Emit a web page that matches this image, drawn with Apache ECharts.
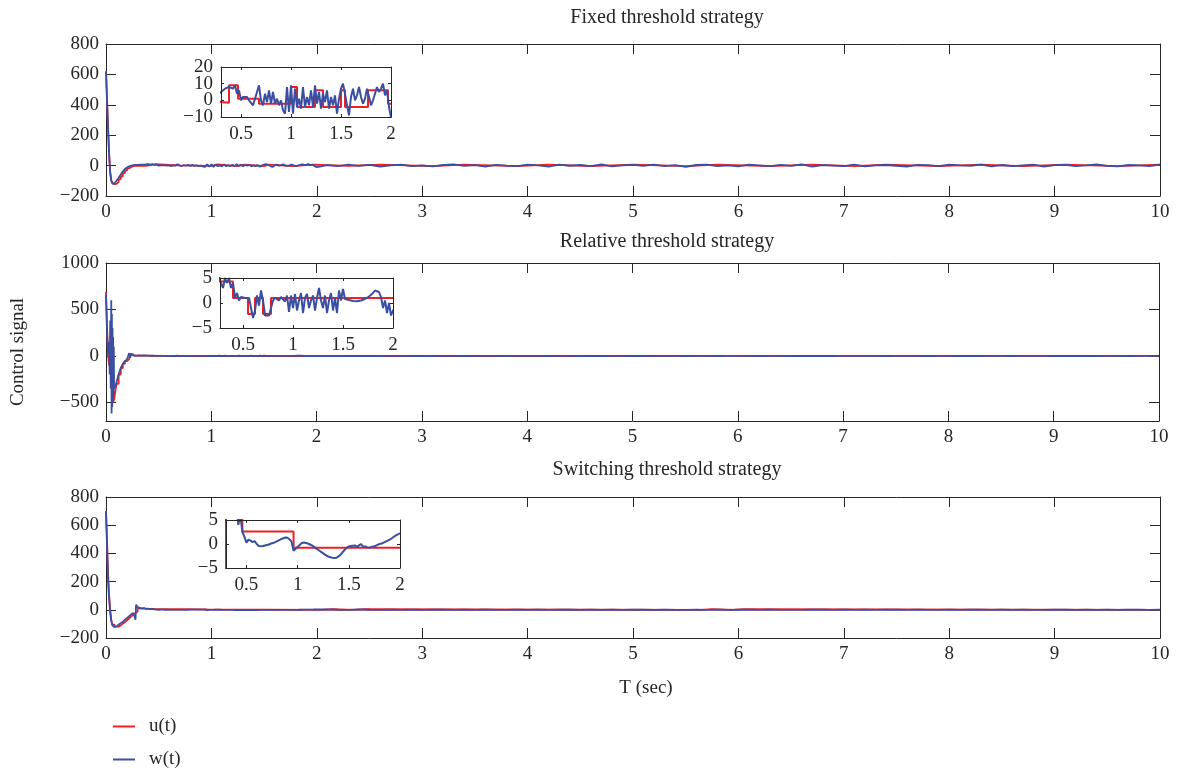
<!DOCTYPE html>
<html>
<head>
<meta charset="utf-8">
<script src="https://cdn.jsdelivr.net/npm/echarts@6/dist/echarts.min.js"></script>
<style>
html,body{margin:0;padding:0;background:#fff;}
#chart{width:1182px;height:771px;}
</style>
</head>
<body>
<div id="chart"></div>
<script>
// ---------------- DATA ----------------
const mainXTicks = [0,1,2,3,4,5,6,7,8,9,10];
const insetXTicks = [0.5, 1, 1.5, 2];
const titles = ['Fixed threshold strategy', 'Relative threshold strategy', 'Switching threshold strategy'];
const MID_START = 0.3, MID_STEP = 0.02;   // inset-resolution samples 0.3 .. 2.0
const LATE_START = 2.1, LATE_STEP = 0.1;  // samples 2.1 .. 10

// ---- Fixed threshold strategy ----
const fixedEarlyW = [[0,620],[0.01,420],[0.02,230],[0.03,60],[0.04,-50],[0.05,-100],[0.06,-118],[0.07,-122],[0.08,-118],[0.1,-100],[0.12,-80],[0.14,-58],[0.16,-38],[0.18,-22],[0.2,-12],[0.22,-5],[0.24,0],[0.26,3],[0.28,4]];
const fixedMidW = [5,6,7,7,8,9,7,9,4,6, 0,2,1,2,0,1,-3,1,0,9, 0,-3,4,-1,6,-2,5,-2,1,-3, 0,-6,-8,8,-7,9,-8,7,-4,1, -5,8,-4,2,-3,6,-4,9,-2,5, -5,4,-1,6,-5,2,-3,3,-8,1, 7,10,4,-3,-9,2,7,0,3,8, 2,-2,1,7,2,-3,0,4,8,5, 7,10,3,6,-4,-10];
const fixedLateW = [3,-4,6,-2,5,-6,2,7,-3,1, -5,4,8,-2,3,-7,5,0,-4,6, 2,-6,7,-1,4,-3,8,-5,1,5, -2,6,-4,3,-8,4,7,-3,2,-5, 6,1,-4,5,-2,8,-6,3,0,-3, 7,-5,2,4,-1,-6,5,3,-4,6, 1,-2,7,-5,4,-3,2,6,-7,3, 5,-4,1,8,-2,-5,4,2,-3,6];
const fixedU = [[0,620],[0.01,440],[0.02,250],[0.03,80],[0.04,-40],[0.05,-95],[0.06,-115],[0.07,-122],[0.08,-120],[0.1,-108],[0.12,-90],[0.14,-70],[0.16,-50],[0.18,-32],[0.2,-18],[0.22,-9],[0.24,-3],[0.26,0],[0.28,-1],
  [0.3,-1.5],[0.38,9],[0.47,1],[0.68,-2],[1.0,8],[1.06,-4],[1.24,6],[1.32,-4],[1.5,6],[1.54,-4],[1.77,6],[1.97,-2],
  [2.3,6],[2.6,-4],[3.1,6],[3.4,-4],[3.9,6],[4.2,-4],[4.6,6],[5.0,-4],[5.5,6],[5.8,-4],[6.3,6],[6.7,-4],[7.1,6],[7.4,-4],[7.9,6],[8.3,-4],[8.7,6],[9.1,-4],[9.6,6],[10,6]];

// ---- Relative threshold strategy ----
const relEarlyW = [[0,660],[0.01,250],[0.02,20],[0.03,150],[0.035,-200],[0.04,380],[0.045,-350],[0.05,600],[0.053,-620],[0.056,450],[0.059,-550],[0.062,300],[0.065,-480],[0.068,200],[0.071,-420],[0.074,100],[0.077,-350],[0.08,-300],[0.09,-330],[0.1,-280],[0.12,-200],[0.14,-130],[0.16,-85],[0.18,-55],[0.2,-35],[0.21,-25],[0.22,30],[0.23,-20],[0.24,25],[0.25,10],[0.26,5],[0.28,4]];
const relMidW = [3,5,4,5,3,4,1,2,0.5,1.2, 0.8,1,0.6,1,-1,-3,-1.5,1.5,-0.5,2.5, 0.5,-2.5,-2.6,-2.5,-2.5,0.5,1,0.8,0.5,1.2, 1,0.3,1.5,-1.8,1.5,-1,1.8,-1.5,0.5,2, -2,1,1.8,-1,0.5,1.5,-1.5,1,3,0.5, -1,1.5,-2,0.5,2,-1.5,1,-2,2.5,0.5, 2.8,0.8,0.7,0.6,0.5,0.4,0.35,0.35,0.4,0.5, 0.6,0.8,1,1.3,1.6,2,2.5,2.9,2.2,1.2, -1,0.5,-2,0,-2.5,-1.5];
const relLateW = [0.5,-1,1.2,-0.4,0.8,-1.3,0.3,1,-0.7,0.2, -1.1,0.9,0.4,-0.6,1.3,-0.2,0.7,-1,0.5,-0.3, 1.1,-0.8,0.2,0.6,-1.2,0.9,-0.4,0.3,1,-0.5, -0.9,0.4,0.8,-0.3,-1,0.6,0.1,-0.7,1.2,-0.2, 0.5,-1.1,0.7,0.3,-0.6,1,-0.4,0.2,-0.9,0.8, 0.4,-0.3,1.1,-0.8,0.5,-0.2,0.9,-1,0.3,0.6, -0.5,1,-0.7,0.2,0.8,-1.2,0.4,-0.1,0.7,-0.6, 1.2,-0.4,0.3,-0.9,0.6,0.1,-0.8,1,-0.3,0.5];
const relU = [[0,690],[0.01,300],[0.02,0],[0.03,-100],[0.05,-300],[0.07,-500],[0.08,-450],[0.09,-370],[0.1,-300],[0.12,-200],[0.14,-130],[0.16,-85],[0.18,-55],[0.2,-35],[0.22,-25],[0.23,20],[0.25,5],[0.27,4.3],
  [0.4,1],[0.55,-2.2],[0.62,1],[0.7,-2.2],[0.78,1],[2.6,-0.5],[4.1,0.8],[6.0,-0.3],[8.2,0.5],[10,0.5]];

// ---- Switching threshold strategy ----
const swEarlyW = [[0,700],[0.01,450],[0.02,200],[0.03,70],[0.035,60],[0.04,-20],[0.05,-80],[0.06,-110],[0.08,-122],[0.1,-118],[0.12,-105],[0.14,-95],[0.16,-85],[0.18,-70],[0.2,-58],[0.22,-45],[0.24,-32],[0.26,-22],[0.27,-18],[0.28,-70],[0.285,35],[0.29,25]];
const swMidW = [20,14,9,12,7,9,4,6,2.5,1.5, 0.3,0.9,0.7,0.4,0.6,0,-0.4,-0.5,-0.4,-0.3, -0.2,-0.1,0.1,0.2,0.4,0.6,0.8,1,1.2,1.35, 1.3,1.0,0.5,-1.4,-1,-0.6,-0.2,0.2,0.3,0.2, 0.1,-0.1,-0.3,-0.6,-0.9,-1.2,-1.5,-1.8,-2.1,-2.4, -2.6,-2.75,-2.85,-2.9,-2.85,-2.6,-2.2,-1.7,-1.2,-0.8, -0.5,-0.4,-0.35,-0.3,-0.6,-0.3,0,-0.6,-0.5,-0.7, -0.8,-0.6,-0.5,-0.4,-0.2,0,0.1,0.3,0.5,0.7, 0.9,1.2,1.5,1.8,2.0,2.2];
const swLateW = [3,0.5,-0.5,2.5,0.3,-0.8,0.4,-0.3,0.6,-0.5, 0.2,0.7,-0.4,0.3,-0.6,0.5,0.1,-0.3,0.6,-0.2, 0.4,-0.7,0.3,0.5,-0.4,0.2,-0.1,0.6,-0.5,0.3, 0.8,-0.2,0.4,-0.6,0.1,0.5,-0.3,0.2,-0.5,0.4, 0.3,-0.4,0.6,-0.2,0.1,-0.6,0.5,0.3,-0.3,0.2, -0.1,0.4,-0.5,0.6,0.2,-0.3,0.5,-0.4,0.1,0.3, -0.6,0.2,0.4,-0.2,0.5,-0.5,0.3,0.1,-0.4,0.6, 0.2,-0.3,0.4,-0.1,0.5,-0.6,0.3,0.2,-0.2,0.4];
const swU = [[0,700],[0.01,480],[0.02,250],[0.03,100],[0.04,0],[0.05,-70],[0.06,-105],[0.08,-120],[0.1,-120],[0.12,-110],[0.14,-98],[0.16,-88],[0.18,-74],[0.2,-60],[0.22,-46],[0.24,-34],[0.26,-22],[0.28,-12],[0.3,10],[0.34,8],[0.38,7],[0.42,6],[0.46,2.6],[0.96,-0.8],
  [2.05,4],[2.15,-0.8],[2.35,4],[2.45,-0.8],[5.65,5],[5.75,-0.8],[5.95,5],[6.05,-0.8],[10,-0.8]];

// y axis ticks
const mainYTicks = [[-200,0,200,400,600,800],[-500,0,500,1000],[-200,0,200,400,600,800]];
const mainYRange = [[-200,800],[-700,1000],[-200,800]];
const insetYTicks = [[-10,0,10,20],[-5,0,5],[-5,0,5]];
const insetXMin = [0.3, 0.27, 0.3];

// ---------------- BUILD ----------------
function buildW(early, mid, late){
  const out = early.map(p => [p[0], p[1]]);
  mid.forEach((v,i) => out.push([+(MID_START + i*MID_STEP).toFixed(3), v]));
  late.forEach((v,i) => out.push([+(LATE_START + i*LATE_STEP).toFixed(3), v]));
  return out;
}
const wSeries = [buildW(fixedEarlyW, fixedMidW, fixedLateW), buildW(relEarlyW, relMidW, relLateW), buildW(swEarlyW, swMidW, swLateW)];
const uSeries = [fixedU, relU, swU];

const FONT = '"Liberation Serif", "Times New Roman", serif';
const TXT = '#262626';
const AX = '#262626';
const RED = '#ec2027';
const BLUE = '#3a4ea2';
const LBL = 19;
const fmt = v => String(+v.toFixed(2)).replace('-', '\u2212');

const mainGrids = [
  {left:106, top:44, width:1054, height:152},
  {left:106, top:263, width:1053, height:158},
  {left:106, top:497, width:1054, height:141}
];
const insetGrids = [
  {left:221, top:67, width:170, height:50},
  {left:220, top:278, width:173, height:50},
  {left:226, top:520, width:174, height:48}
];

const grid = [], xAxis = [], yAxis = [], series = [];
function axisCfg(z, tickLen, lblMargin, showLine, tickVals, labelVals){
  return {
    z: z,
    axisLine:{show:showLine, onZero:false, lineStyle:{color:AX, width:1}},
    axisTick:{show:showLine, inside:true, length:tickLen, customValues:tickVals, lineStyle:{color:AX, width:1}},
    axisLabel:{show:labelVals.length > 0, customValues:labelVals.length ? labelVals : tickVals, showMinLabel:true, showMaxLabel:true,
      fontFamily:FONT, fontSize:LBL, color:TXT, margin:lblMargin, formatter:fmt},
    splitLine:{show:false}
  };
}
function addAxes(gi, xr, xt, yr, yt, tickLen, lblMargin, z, splitY){
  const xi = xAxis.length, yi = yAxis.length;
  xAxis.push(Object.assign({type:'value', gridIndex:gi, min:xr[0], max:xr[1], position:'bottom'}, axisCfg(z, tickLen, lblMargin, true, xt, xt)));
  xAxis.push(Object.assign({type:'value', gridIndex:gi, min:xr[0], max:xr[1], position:'top'}, axisCfg(z, tickLen, lblMargin, true, xt, [])));
  if (splitY) {
    // labels placed on two overlapping axes so tightly packed labels are all kept
    const evenL = yt.filter((v,i) => i % 2 === 0), oddL = yt.filter((v,i) => i % 2 === 1);
    yAxis.push(Object.assign({type:'value', gridIndex:gi, min:yr[0], max:yr[1], position:'left'}, axisCfg(z, tickLen, lblMargin, true, yt, evenL)));
    yAxis.push(Object.assign({type:'value', gridIndex:gi, min:yr[0], max:yr[1], position:'left', offset:0}, axisCfg(z, tickLen, lblMargin, false, yt, oddL)));
  } else {
    yAxis.push(Object.assign({type:'value', gridIndex:gi, min:yr[0], max:yr[1], position:'left'}, axisCfg(z, tickLen, lblMargin, true, yt, yt)));
  }
  yAxis.push(Object.assign({type:'value', gridIndex:gi, min:yr[0], max:yr[1], position:'right'}, axisCfg(z, tickLen, lblMargin, true, yt, [])));
  return [xi, yi];
}

for (let p = 0; p < 3; p++) {
  // main panel
  grid.push(Object.assign({containLabel:false}, mainGrids[p]));
  let gi = grid.length - 1;
  let [xi, yi] = addAxes(gi, [0,10], mainXTicks, mainYRange[p], mainYTicks[p], 10, 7, 1, false);
  series.push({name:'u(t)', type:'line', xAxisIndex:xi, yAxisIndex:yi, data:uSeries[p], step:'end', showSymbol:false, symbol:'none', color:RED, lineStyle:{color:RED, width:1.8}, z:2});
  series.push({name:'w(t)', type:'line', xAxisIndex:xi, yAxisIndex:yi, data:wSeries[p], showSymbol:false, symbol:'none', color:BLUE, lineStyle:{color:BLUE, width:1.8}, z:3});
  // inset panel
  grid.push(Object.assign({show:true, backgroundColor:'#fff', borderWidth:0, z:5}, insetGrids[p]));
  gi = grid.length - 1;
  const iy = insetYTicks[p];
  [xi, yi] = addAxes(gi, [insetXMin[p], 2], insetXTicks, [iy[0], iy[iy.length-1]], iy, 3, 8, 10, iy.length > 3);
  series.push({name:'u(t)', type:'line', xAxisIndex:xi, yAxisIndex:yi, data:uSeries[p], step:'end', showSymbol:false, symbol:'none', color:RED, lineStyle:{color:RED, width:2}, clip:true, z:6});
  series.push({name:'w(t)', type:'line', xAxisIndex:xi, yAxisIndex:yi, data:wSeries[p], showSymbol:false, symbol:'none', color:BLUE, lineStyle:{color:BLUE, width:2}, clip:true, z:7});
}

const titleY = [18, 242, 470];
const graphic = titles.map((t,i) => ({
  type:'text', x:667, y:titleY[i],
  style:{text:t, fill:TXT, font:'20px ' + FONT, align:'center', verticalAlign:'middle', textAlign:'center', textVerticalAlign:'middle'}
}));
graphic.push({type:'text', x:18, y:352, rotation:Math.PI/2,
  style:{text:'Control signal', fill:TXT, font:'19px ' + FONT, align:'center', verticalAlign:'middle', textAlign:'center', textVerticalAlign:'middle'}});
graphic.push({type:'text', x:646, y:688,
  style:{text:'T (sec)', fill:TXT, font:'19px ' + FONT, align:'center', verticalAlign:'middle', textAlign:'center', textVerticalAlign:'middle'}});

const legendCommon = {orient:'vertical', left:113, icon:'rect', itemWidth:22, itemHeight:2, padding:0,
  textStyle:{fontFamily:FONT, fontSize:LBL, color:TXT, padding:[0,0,0,9]}};

const chart = echarts.init(document.getElementById('chart'), null, {renderer:'canvas'});
chart.setOption({
  animation:false,
  backgroundColor:'#fff',
  grid, xAxis, yAxis, series, graphic,
  legend:[
    Object.assign({data:['u(t)'], top:717}, legendCommon),
    Object.assign({data:['w(t)'], top:750}, legendCommon)
  ]
});
</script>
</body>
</html>
